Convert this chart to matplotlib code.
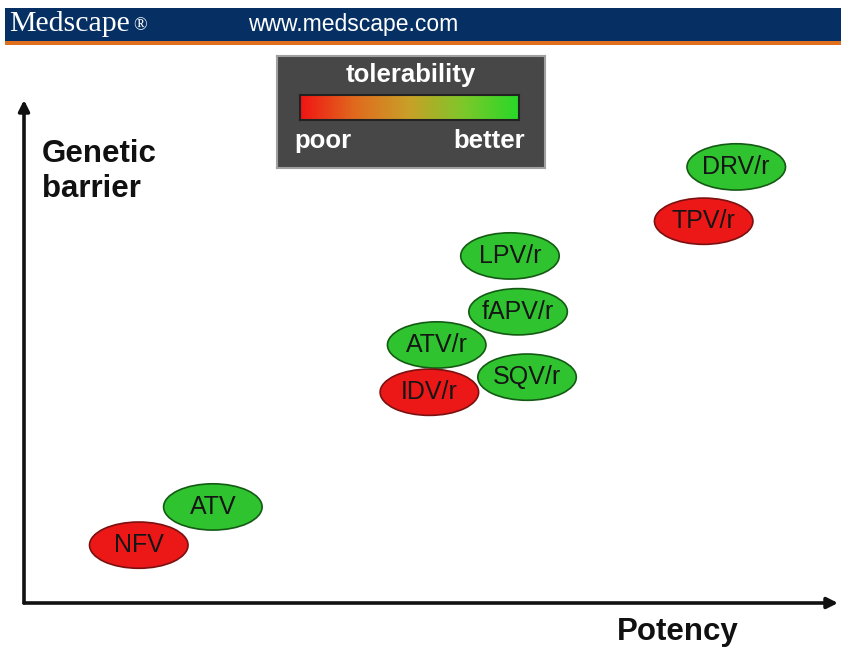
import numpy as np
import matplotlib.pyplot as plt
from matplotlib.patches import Ellipse, Rectangle
from matplotlib.colors import LinearSegmentedColormap

plt.rcParams['font.family'] = ['Liberation Sans', 'DejaVu Sans']

# Datos: posición relativa (potencia, barrera genética) y tolerabilidad
drugs = ['DRV/r', 'TPV/r', 'LPV/r', 'fAPV/r', 'ATV/r', 'SQV/r', 'IDV/r', 'ATV', 'NFV']
potency = [87.5, 83.5, 59.7, 60.7, 50.7, 61.8, 49.8, 23.2, 14.1]
barrier = [86.7, 75.9, 69.0, 57.9, 51.3, 44.9, 41.9, 19.1, 11.5]
tolerability = ['better', 'poor', 'better', 'better', 'better', 'better', 'poor', 'better', 'poor']

relleno = {'better': '#2fc42f', 'poor': '#ec1818'}
borde = {'better': '#145a14', 'poor': '#7a1010'}

W, H = 841, 652
fig = plt.figure(figsize=(W / 100, H / 100), dpi=100)
fig.patch.set_facecolor('white')

# Cabecera
fig.patches.append(Rectangle((5 / W, 1 - 41 / H), 1, 33 / H, transform=fig.transFigure,
                             facecolor='#063064', edgecolor='none'))
fig.patches.append(Rectangle((5 / W, 1 - 45 / H), 1, 4 / H, transform=fig.transFigure,
                             facecolor='#e0701e', edgecolor='none'))
fig.text(9 / W, 1 - 24 / H, 'Medscape', family='Liberation Serif', fontsize=21.5,
         color='white', va='center', ha='left')
fig.text(133 / W, 1 - 26 / H, '®', family='Liberation Serif', fontsize=13,
         color='white', va='center', ha='left')
fig.text(248 / W, 1 - 24 / H, 'www.medscape.com', fontsize=16.5, color='white',
         va='center', ha='left')

# Ejes principales (flechas)
ax = fig.add_axes([24 / W, 49 / H, 814 / W, 503 / H])
ax.set_xlim(0, 100)
ax.set_ylim(0, 100)
ax.axis('off')
flecha = dict(arrowstyle='-|>', lw=2.6, color='#111111', mutation_scale=16, shrinkA=0, shrinkB=0)
ax.annotate('', xy=(0, 1), xytext=(0, 0), xycoords='axes fraction', arrowprops=flecha,
            annotation_clip=False)
ax.annotate('', xy=(1, 0), xytext=(0, 0), xycoords='axes fraction', arrowprops=flecha,
            annotation_clip=False)

fig.text(42 / W, 1 - 154 / H, 'Genetic', fontsize=22.5, fontweight='bold', color='#111111',
         va='center', ha='left')
fig.text(42 / W, 1 - 189 / H, 'barrier', fontsize=22.5, fontweight='bold', color='#111111',
         va='center', ha='left')
fig.text(617 / W, 1 - 632 / H, 'Potency', fontsize=22.5, fontweight='bold', color='#111111',
         va='center', ha='left')

# Elipses
for nombre, x, y, t in zip(drugs, potency, barrier, tolerability):
    e = Ellipse((x, y), 12.1, 9.2, facecolor=relleno[t], edgecolor=borde[t], lw=1.2)
    ax.add_patch(e)
    ax.text(x, y, nombre, fontsize=18, color='#151515', ha='center', va='center')

# Leyenda de tolerabilidad
lax = fig.add_axes([277 / W, 1 - 168 / H, 268 / W, 112 / H])
lax.set_facecolor('#474747')
lax.set_xticks([])
lax.set_yticks([])
for s in lax.spines.values():
    s.set_color('#a0a0a0')
    s.set_linewidth(1.5)
lax.text(0.5, 0.83, 'tolerability', fontsize=18.5, fontweight='bold', color='white',
         ha='center', va='center', transform=lax.transAxes)
lax.text(0.065, 0.24, 'poor', fontsize=18.5, fontweight='bold', color='white',
         ha='left', va='center', transform=lax.transAxes)
lax.text(0.925, 0.24, 'better', fontsize=18.5, fontweight='bold', color='white',
         ha='right', va='center', transform=lax.transAxes)

cmap = LinearSegmentedColormap.from_list('tol', ['#f01414', '#e06a1e', '#c8a028', '#7cc82a', '#28d828'])
gax = fig.add_axes([300 / W, 1 - 120 / H, 219 / W, 25 / H])
gax.imshow(np.linspace(0, 1, 256).reshape(1, -1), aspect='auto', cmap=cmap)
gax.set_xticks([])
gax.set_yticks([])
for s in gax.spines.values():
    s.set_color('#222222')
    s.set_linewidth(1.5)

fig.savefig('out.png', dpi=100)
